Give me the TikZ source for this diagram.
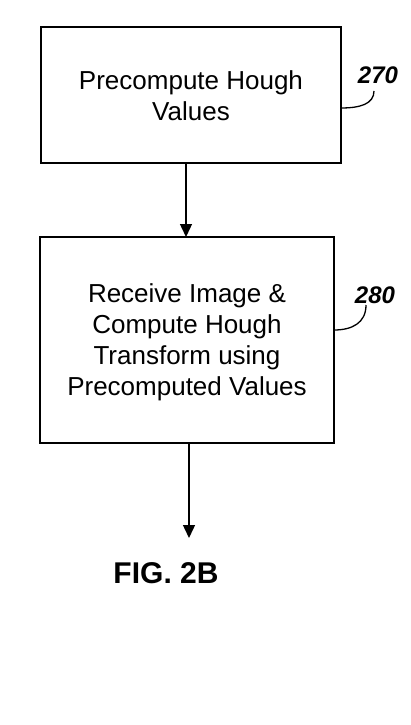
\documentclass[tikz,border=0pt]{standalone}
\usepackage{fontspec}
\setmainfont{Liberation Sans}
\usetikzlibrary{arrows.meta}
\begin{document}
\begin{tikzpicture}[x=1pt,y=-1pt,
  stepbox/.style={draw,line width=1.6pt,inner sep=0pt},
  boxtext/.style={font=\fontsize{26}{31}\selectfont,align=center},
  reflabel/.style={font=\fontsize{24}{28}\selectfont\bfseries\itshape},
  flow/.style={line width=1.4pt,-{Triangle[width=12pt,length=13pt]}},
  leader/.style={line width=1.3pt}]
\useasboundingbox (0,0) rectangle (410,725);
\node[stepbox,minimum width=300pt,minimum height=136pt] (b1) at (191,95) {};
\node[boxtext] (t1) at (191,96) {Precompute Hough\\Values};
\node[stepbox,minimum width=294pt,minimum height=206pt] (b2) at (187,340) {};
\node[boxtext] (t2) at (187,342) {Receive Image \&\\Compute Hough\\Transform using\\Precomputed Values};
\coordinate (e2) at (189,538);
\draw[flow] (186,163) -- (186,237);
\draw[flow] (b2.south -| e2) -- (e2);
\node[font=\fontsize{30}{34}\selectfont\bfseries] (fig) at (166,573) {FIG. 2B};
\node[reflabel] (l1) at (378,75) {270};
\node[reflabel] (l2) at (375,295) {280};
\coordinate (c1) at (341,108);
\coordinate (c2) at (334,330);
\draw[leader] (c1) .. controls (360,108) and (374,104) .. (374,91);
\draw[leader] (c2) .. controls (352,330) and (366,323) .. (366,305);
\end{tikzpicture}
\end{document}
